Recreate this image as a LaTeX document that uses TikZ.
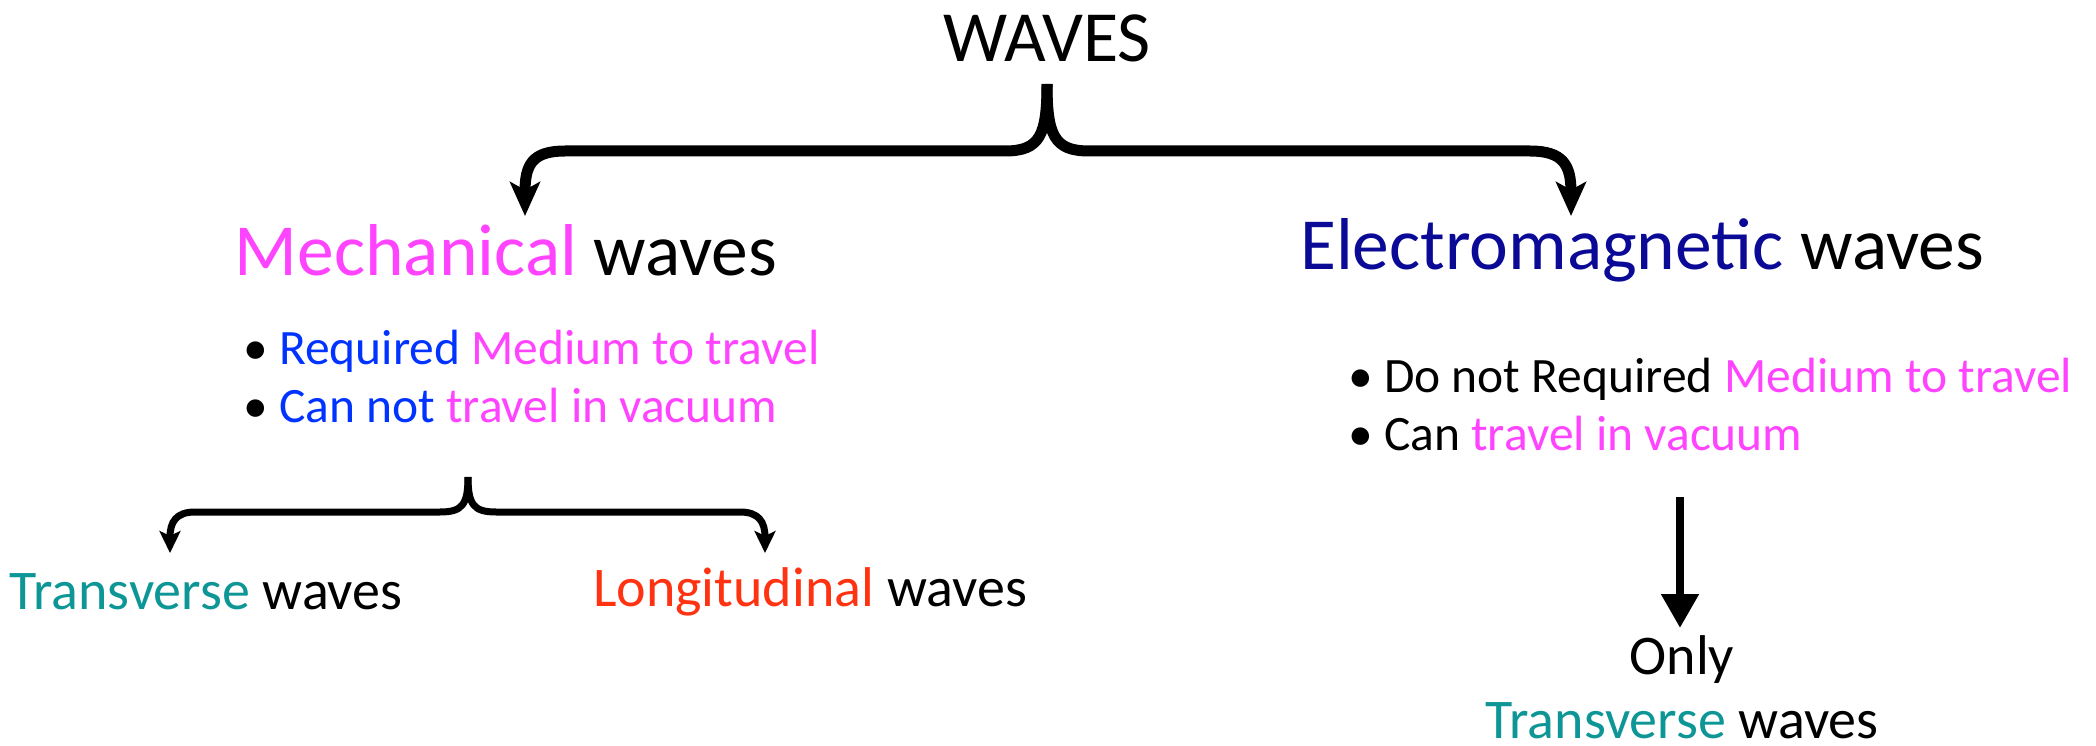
\documentclass[tikz,border=0pt]{standalone}
\usepackage{fontspec}
\setmainfont{Carlito}
\usetikzlibrary{arrows.meta,calc}
\definecolor{mag}{HTML}{FF44FF}
\definecolor{navy}{HTML}{0A0A96}
\definecolor{blu}{HTML}{0033FF}
\definecolor{teal2}{HTML}{0E9696}
\definecolor{orng}{HTML}{FF3311}
\tikzset{
  bigbrace/.style={line width=11pt, line cap=butt, -{Stealth[length=34pt,width=30pt,inset=8pt]}},
  smallbrace/.style={line width=7pt, -{Stealth[length=22pt,width=21pt,inset=5pt]}},
  downarrow/.style={line width=8pt, -{Triangle[length=34pt,width=36pt]}},
  title/.style={inner sep=0pt, font=\fontsize{72}{84}\selectfont},
  head/.style={inner sep=0pt, font=\fontsize{73.5}{88}\selectfont},
  bul/.style={inner sep=0pt, align=left, font=\fontsize{49.5}{58}\selectfont},
  leaf/.style={inner sep=0pt, font=\fontsize{56}{64}\selectfont}
}
\begin{document}
\begin{tikzpicture}[x=1pt,y=-1pt]
\useasboundingbox (0,0) rectangle (2096,746);
\node[title] (waves) at (1047,38) {WAVES};
\node[head] (mech) at (506,250) {\textcolor{mag}{Mechanical} waves};
\node[head] (em) at (1642,250) {\textcolor{navy}{Electromagnetic} waves};
\node[bul, anchor=west] (mb) at (243,376) {• \textcolor{blu}{Required} \textcolor{mag}{Medium to travel}\\• \textcolor{blu}{Can not} \textcolor{mag}{travel in vacuum}};
\node[bul, anchor=west] (eb) at (1348,404) {• Do not Required \textcolor{mag}{Medium to travel}\\• Can \textcolor{mag}{travel in vacuum}};
\node[leaf] (tr) at (206,592) {\textcolor{teal2}{Transverse} waves};
\node[leaf] (lo) at (810,592) {\textcolor{orng}{Longitudinal} waves};
\node[leaf, align=center] (only) at (1682,687) {Only\\\textcolor{teal2}{Transverse} waves};
% top brace
\coordinate (ttip) at (1047,84);
\coordinate (tl) at (525,216);
\coordinate (tr2) at (1571,216);
\draw[bigbrace] (ttip) .. controls (1047,135) and (1040,151) .. (1005,151) -- (565,151) .. controls (532,151) and (525,165) .. (tl);
\draw[bigbrace] (ttip) .. controls (1047,135) and (1054,151) .. (1089,151) -- (1530,151) .. controls (1563,151) and (1571,165) .. (tr2);
% lower brace
\coordinate (btip) at (468,477);
\coordinate (bl) at (170,553);
\coordinate (br) at (765,553);
\draw[smallbrace] (btip) .. controls (468,505) and (462,512) .. (440,512) -- (195,512) .. controls (176,512) and (170,522) .. (bl);
\draw[smallbrace] (btip) .. controls (468,505) and (474,512) .. (496,512) -- (740,512) .. controls (759,512) and (765,522) .. (br);
% down arrow
\coordinate (dtop) at (1680,497);
\draw[downarrow] (dtop) -- (1680,628);
\end{tikzpicture}
\end{document}
